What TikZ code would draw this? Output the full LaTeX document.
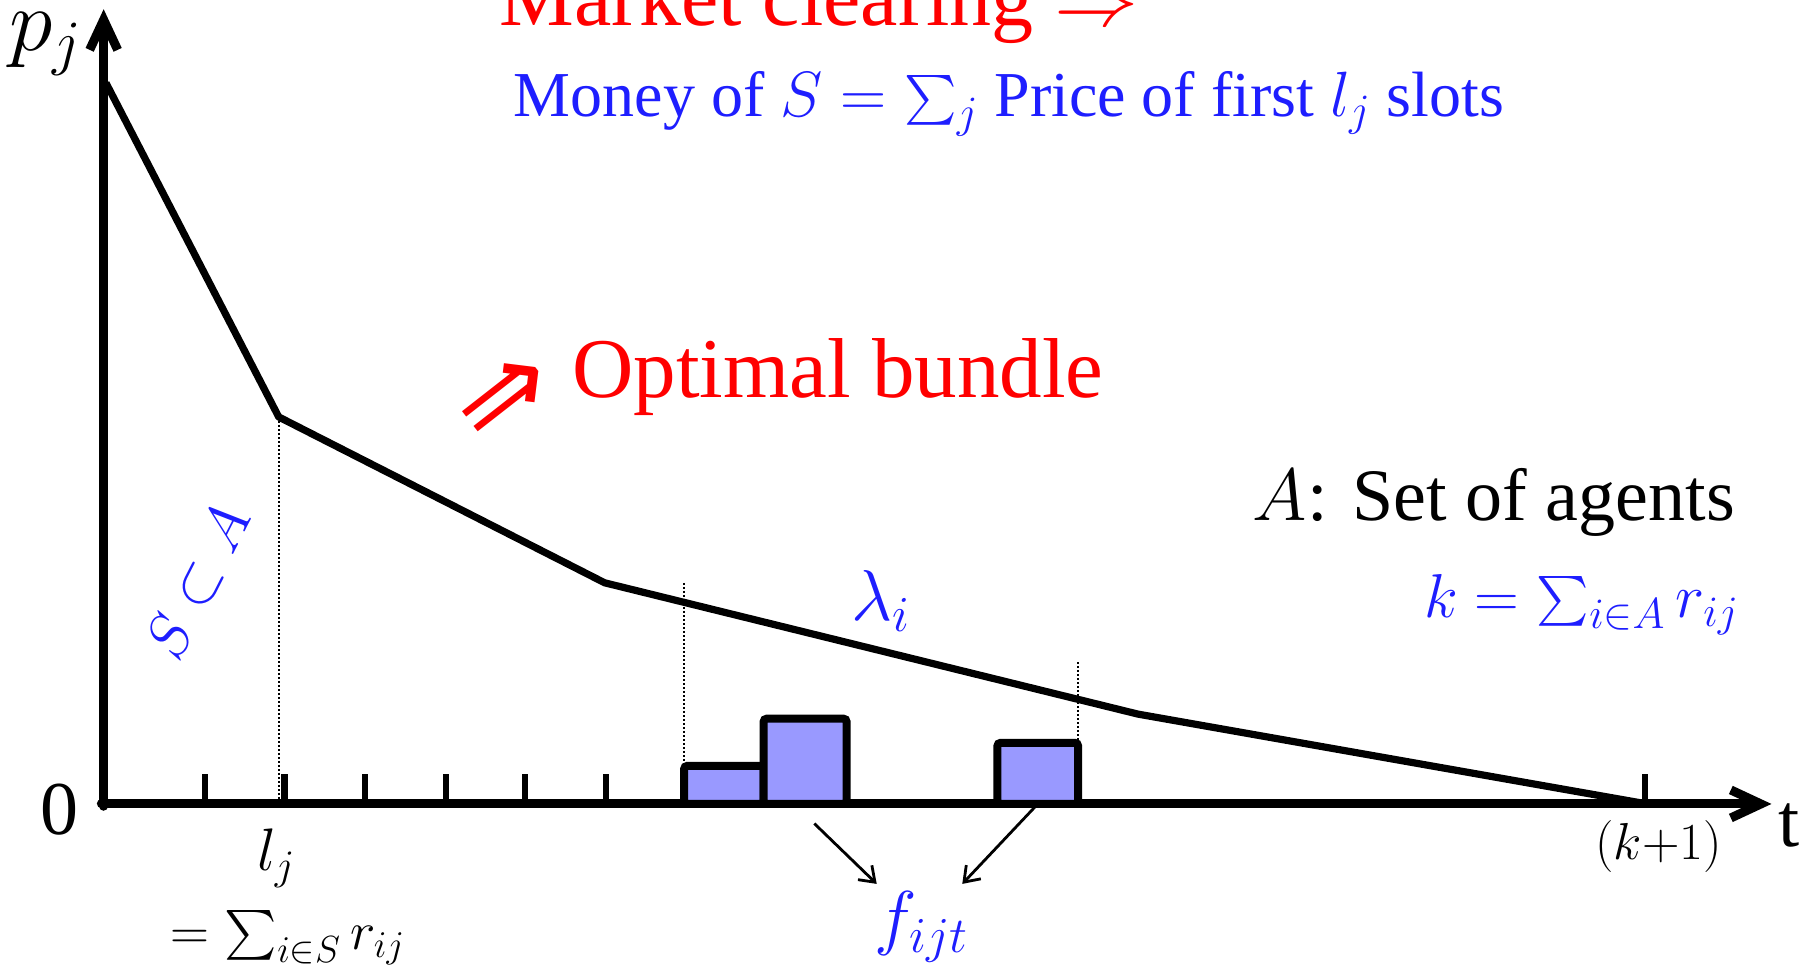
\RequirePackage{fix-cm}
\documentclass[tikz,border=0pt]{standalone}
\usepackage{exscale}
\usepackage{fontspec}
\setmainfont{Liberation Serif}
\newfontfamily\arrowfont{DejaVu Sans}
\usetikzlibrary{arrows.meta}
\definecolor{myred}{RGB}{255,0,0}
\definecolor{myblue}{RGB}{30,30,255}
\definecolor{barfill}{RGB}{153,153,255}
\newcommand{\myfs}[1]{\fontsize{#1}{#1}\selectfont}
\tikzset{
  axisline/.style={line width=4.5pt, -{Straight Barb[length=15pt,width=14pt]}, line cap=round},
  curveline/.style={line width=3.6pt, line join=round},
  tickline/.style={line width=3.2pt},
  guide/.style={line width=1pt, dash pattern=on 1pt off 1pt},
  bar/.style={draw, line width=4pt, fill=barfill, rounded corners=1.5pt, outer sep=0pt, inner sep=0pt, anchor=south west},
  ptr/.style={line width=1.4pt, -{Straight Barb[length=7pt,width=10pt]}},
  lbl/.style={inner sep=0pt, outer sep=0pt},
  bluelbl/.style={lbl, text=myblue},
  redlbl/.style={lbl, text=myred},
}
\begin{document}
\begin{tikzpicture}[x=0.5759pt, y=-0.5759pt]
\useasboundingbox (0,0) rectangle (1568,839);
% axes
\coordinate (O) at (90,698);
\coordinate (Ytop) at (90,8);
\coordinate (Xend) at (1538,698);
\draw[axisline] (90,700) -- (Ytop);
\draw[axisline] (88,698) -- (Xend);
% ticks
\foreach \x in {178,247,317,387,456,526,1428}
  \draw[tickline] (\x,698) -- (\x,672);
% curve
\coordinate (c0) at (92,72);
\coordinate (c1) at (242,362);
\coordinate (c2) at (525,506);
\coordinate (c3) at (988,620);
\coordinate (c4) at (1430,698);
\draw[curveline] (c0) -- (c1) -- (c2) -- (c3) -- (c4);
% dotted guides
\draw[guide] (c1) -- (242,698);
\draw[guide] (594,506) -- (594,665);
\draw[guide] (936,575) -- (936,645);
% bars
\node[bar, minimum width=69*0.5759pt, minimum height=33*0.5759pt] (b1) at (594,698) {};
\node[bar, minimum width=72*0.5759pt, minimum height=74*0.5759pt] (b2) at (663,698) {};
\node[bar, minimum width=70*0.5759pt, minimum height=53*0.5759pt] (b3) at (866,698) {};
% labels
\node[lbl] (pj) at (40,38) {\myfs{44pt}$p_j$};
\node[lbl] (zero) at (52,703) {\myfs{38pt}0};
\node[lbl] (t) at (1553,717) {\myfs{38pt}t};
\node[lbl] (k1) at (1440,735) {\myfs{26pt}$(k{+}1)$};
\node[lbl] (lj) at (240,745) {\myfs{30pt}$l_j$};
\node[lbl] (ljsum) at (250,814) {\myfs{27pt}$=\textstyle\sum_{i\in S} r_{ij}$};
\node[bluelbl, rotate=63] (SA) at (172,505) {\myfs{30pt}$S\subset A$};
\node[bluelbl] (lam) at (765,522) {\myfs{36pt}$\lambda_i$};
\node[bluelbl, inner sep=4pt] (f) at (800,805) {\myfs{36pt}$f_{ijt}$};
\node[lbl, anchor=base] (agents) at (1297,452) {\myfs{37pt}$A$: Set of agents};
\node[bluelbl] (ksum) at (1373,525) {\myfs{31pt}$k=\textstyle\sum_{i\in A} r_{ij}$};
\node[bluelbl, anchor=base] (money) at (876,101) {\myfs{32pt}Money of $S=\textstyle\sum_j$ Price of first $l_j$ slots};
\node[redlbl, anchor=base] (market) at (711,22) {\myfs{42pt}Market clearing $\Rightarrow$};
\node[redlbl, anchor=base west] (opt) at (497,345) {\myfs{42.5pt}Optimal bundle};
\node[redlbl, rotate=38] (imp) at (440,348) {\arrowfont\myfs{58pt}⇒};
% pointers
\coordinate (a1) at (707,715);
\draw[ptr] (a1) -- (f);
\draw[ptr] (b3.south) -- (f);
\end{tikzpicture}
\end{document}
